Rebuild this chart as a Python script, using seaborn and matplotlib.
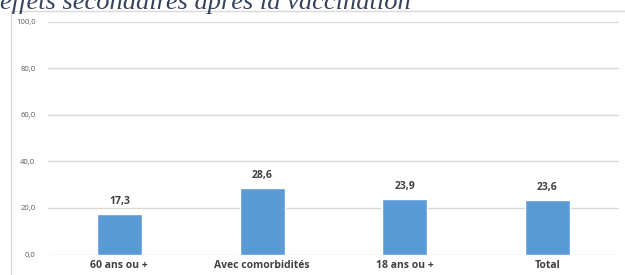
import matplotlib
matplotlib.use("Agg")
import matplotlib.pyplot as plt
import matplotlib.patches as mpatches
import seaborn as sns
import pandas as pd

categories = ["60 ans ou +", "Avec comorbidités", "18 ans ou +", "Total"]
values = [17.3, 28.6, 23.9, 23.6]
yticks = [0, 20, 40, 60, 80, 100]
title = "effets secondaires après la vaccination"

df = pd.DataFrame({"cat": categories, "val": values})

sns.set_theme(style="white")
plt.rcParams["font.family"] = ["Open Sans", "DejaVu Sans"]

fig = plt.figure(figsize=(6.25, 2.75), dpi=100)
ax = fig.add_axes([0.0768, 0.0745, 0.9132, 0.8473])

sns.barplot(data=df, x="cat", y="val", color="#5B9BD5", width=0.315,
            saturation=1, ax=ax, zorder=3)

ax.set_ylim(0, 100)
ax.set_xlim(-0.5, len(categories) - 0.5)
ax.set_yticks(yticks)
ax.set_yticklabels([f"{t:.1f}".replace(".", ",") for t in yticks],
                   fontsize=5.5, color="#595959")
ax.tick_params(axis="y", length=0, pad=9)
ax.tick_params(axis="x", length=0, pad=4)
plt.setp(ax.get_xticklabels(), fontsize=7.5, fontweight="bold", color="#404040")
ax.set_xlabel("")
ax.set_ylabel("")
for s in ax.spines.values():
    s.set_visible(False)
ax.yaxis.grid(True, color="#D9D9D9", linewidth=1)
ax.set_axisbelow(True)

for i, v in enumerate(values):
    ax.annotate(f"{v:.1f}".replace(".", ","), xy=(i, v), xytext=(0, 5),
                textcoords="offset points", ha="center", va="bottom",
                fontsize=7.5, fontweight="bold", color="#404040")

# chart frame
fig.patches.append(mpatches.Rectangle((0.0176, -0.05), 1.0, 1.01, transform=fig.transFigure,
                                      fill=False, edgecolor="#D9D9D9", linewidth=1))

fig.text(0.0, 0.967, title, fontsize=19, style="italic", color="#34425E",
         family=["Liberation Serif", "DejaVu Serif"], ha="left", va="baseline")

fig.savefig("out.png", dpi=100)
